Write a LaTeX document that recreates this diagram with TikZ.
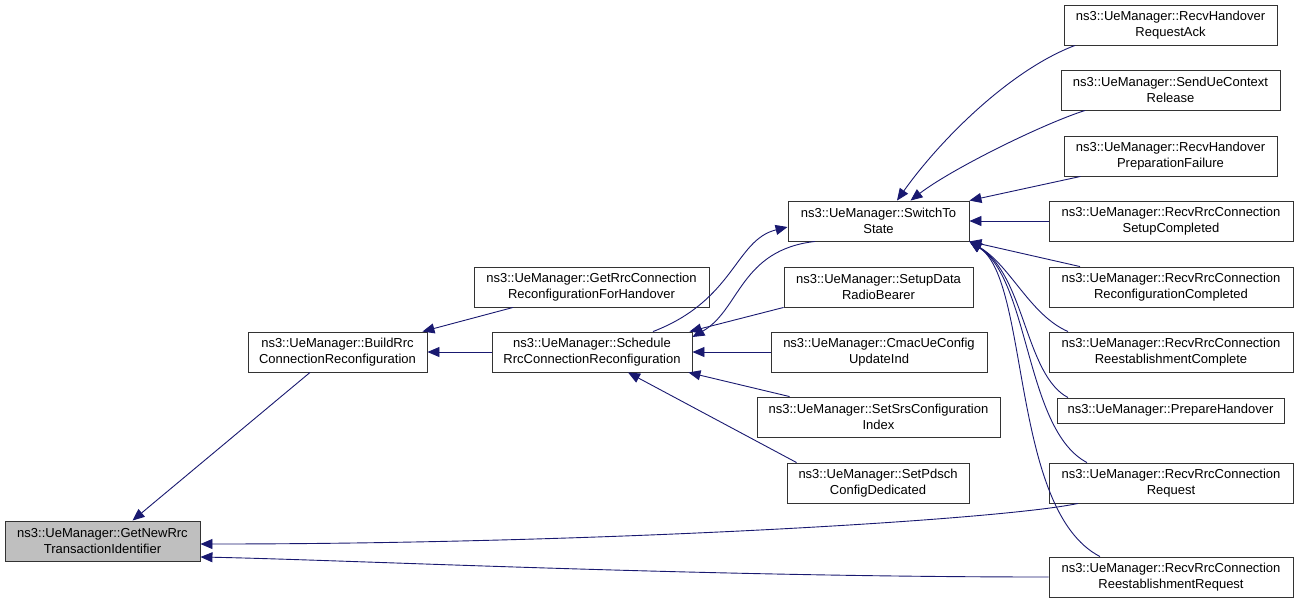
\documentclass[tikz,border=0pt]{standalone}
\usepackage{fontspec}
\setmainfont{Liberation Sans}
\usetikzlibrary{arrows.meta}
\definecolor{edgeblue}{HTML}{191970}
\definecolor{boxline}{HTML}{333333}
\definecolor{rootfill}{HTML}{BFBFBF}
\begin{document}
\begin{tikzpicture}[x=1pt,y=-1pt,
  fn/.style={draw=boxline,line width=0.9pt,fill=white,rectangle,inner sep=0pt,minimum height=40pt,align=center,font=\fontsize{13}{16}\selectfont},
  rootbox/.style={fn,fill=rootfill},
  edge/.style={draw=edgeblue,line width=0.9pt,-{Triangle[length=12pt,width=10pt]}}]
\useasboundingbox (0,0) rectangle (1299,603);
% nodes
\node[rootbox,minimum width=195pt] (root) at (102.5,541) {ns3::UeManager::GetNewRrc\\TransactionIdentifier};
\node[fn,minimum width=179pt] (build) at (337.5,352) {ns3::UeManager::BuildRrc\\ConnectionReconfiguration};
\node[fn,minimum width=235pt] (gethand) at (591.5,287) {ns3::UeManager::GetRrcConnection\\ReconfigurationForHandover};
\node[fn,minimum width=200pt] (sched) at (592,352) {ns3::UeManager::Schedule\\RrcConnectionReconfiguration};
\node[fn,minimum width=181pt] (switch) at (878.5,221) {ns3::UeManager::SwitchTo\\State};
\node[fn,minimum width=189pt] (setup) at (878.5,287) {ns3::UeManager::SetupData\\RadioBearer};
\node[fn,minimum width=216pt] (cmac) at (879,352) {ns3::UeManager::CmacUeConfig\\UpdateInd};
\node[fn,minimum width=243pt] (srs) at (878.5,417) {ns3::UeManager::SetSrsConfiguration\\Index};
\node[fn,minimum width=182pt] (pdsch) at (878,483) {ns3::UeManager::SetPdsch\\ConfigDedicated};
\node[fn,minimum width=213pt] (rack) at (1170.5,25) {ns3::UeManager::RecvHandover\\RequestAck};
\node[fn,minimum width=219pt] (sctx) at (1170.5,90) {ns3::UeManager::SendUeContext\\Release};
\node[fn,minimum width=213pt] (pfail) at (1170.5,156) {ns3::UeManager::RecvHandover\\PreparationFailure};
\node[fn,minimum width=244pt] (setupc) at (1171,221) {ns3::UeManager::RecvRrcConnection\\SetupCompleted};
\node[fn,minimum width=244pt] (reconf) at (1171,287) {ns3::UeManager::RecvRrcConnection\\ReconfigurationCompleted};
\node[fn,minimum width=244pt] (reestc) at (1171,352) {ns3::UeManager::RecvRrcConnection\\ReestablishmentComplete};
\node[fn,minimum width=227pt,minimum height=25pt] (prep) at (1170.5,410.5) {ns3::UeManager::PrepareHandover};
\node[fn,minimum width=244pt] (req) at (1171,483) {ns3::UeManager::RecvRrcConnection\\Request};
\node[fn,minimum width=244pt] (reestr) at (1171,577) {ns3::UeManager::RecvRrcConnection\\ReestablishmentRequest};
% edges into root
\draw[edge] ([xshift=-27.5pt]build.south) -- ([xshift=30pt]root.north);
\draw[edge] ([xshift=-93pt]req.south) .. controls (1000,520) and (600,544) .. ([yshift=-3pt]root.east);
\draw[edge] (reestr.west) .. controls (700,577) and (350,560) .. ([yshift=-16pt]root.east);
% edges into build
\draw[edge] ([xshift=-78.5pt]gethand.south) -- ([xshift=-5pt]build.north east);
\draw[edge] (sched.west) -- (build.east);
% edges into sched
\draw[edge] ([xshift=-63.5pt]switch.south) .. controls (740,250) and (740,310) .. ([yshift=15pt]sched.east);
\draw[edge] (setup.south west) -- ([xshift=-3pt]sched.north east);
\draw[edge] (cmac.west) -- (sched.east);
\draw[edge] ([xshift=33pt]srs.north west) -- ([xshift=-4pt]sched.south east);
\draw[edge] ([xshift=10pt]pdsch.north west) -- ([xshift=36pt]sched.south);
% edges into switch
\draw[edge] ([xshift=61pt]sched.north) .. controls (735,300) and (735,240) .. ([yshift=-6pt]switch.west);
\draw[edge] ([xshift=-95.5pt]rack.south) .. controls (1010,70) and (940,140) .. ([xshift=18.5pt]switch.north);
\draw[edge] ([xshift=-85.5pt]sctx.south) .. controls (1040,125) and (950,170) .. ([xshift=32pt]switch.north);
\draw[edge] ([xshift=-90pt]pfail.south) -- (switch.north east);
\draw[edge] (setupc.west) -- (switch.east);
\draw[edge] ([xshift=-91pt]reconf.north) -- (switch.south east);
\draw[edge] ([xshift=-103pt]reestc.north) .. controls (1030,315) and (1010,265) .. (switch.south east);
\draw[edge] ([xshift=-102.5pt]prep.north) .. controls (1025,375) and (1025,275) .. (switch.south east);
\draw[edge] ([xshift=-84pt]req.north) .. controls (1025,430) and (1030,280) .. (switch.south east);
\draw[edge] ([xshift=-71pt]reestr.north) .. controls (1010,510) and (1030,280) .. (switch.south east);
\end{tikzpicture}
\end{document}
